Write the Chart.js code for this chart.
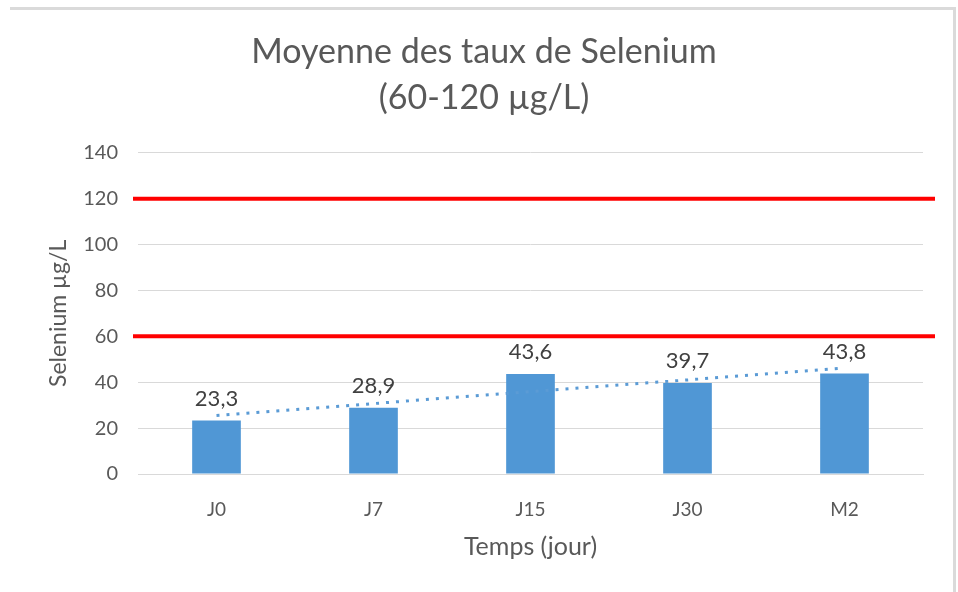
<!DOCTYPE html>
<html>
<head>
<meta charset="utf-8">
<script src="https://cdn.jsdelivr.net/npm/chart.js@4.4.1/dist/chart.umd.min.js"></script>
<style>
  html, body { margin: 0; padding: 0; background: #fff; }
  #wrap { position: relative; width: 958px; height: 592px; }
  #frame {
    position: absolute; left: 10px; top: 7px; width: 943px; height: 600px;
    border-top: 3px solid #dadada; border-right: 3px solid #dadada;
  }
  canvas { position: absolute; left: 0; top: 0; }
</style>
</head>
<body>
<div id="wrap">
  <div id="frame"></div>
  <canvas id="myChart1" width="958" height="592"></canvas>
</div>
<script>
// data
const categories = ['J0', 'J7', 'J15', 'J30', 'M2'];
const selenium = [23.3, 28.9, 43.6, 39.7, 43.8];
const trend = [25.5, 30.7, 35.9, 41.0, 46.2];
const refLimits = [60, 120];
const titleLines = ['Moyenne des taux de Selenium', '(60-120 µg/L)'];

const fontName = 'Lato';
const textGrey = '#595959';

// red reference lines (60 and 120), a bit wider than the plot area
const limitLines = {
  id: 'limitLines',
  afterDatasetsDraw(chart) {
    const ctx = chart.ctx;
    const area = chart.chartArea;
    const y = chart.scales.y;
    ctx.save();
    ctx.strokeStyle = '#ff0000';
    ctx.lineWidth = 4;
    refLimits.forEach(v => {
      let py = y.getPixelForValue(v);
      ctx.beginPath();
      ctx.moveTo(area.left - 5, py);
      ctx.lineTo(area.right + 12, py);
      ctx.stroke();
    });
    ctx.restore();
  }
};

// values on top of the bars, french decimal comma
const barLabels = {
  id: 'barLabels',
  afterDatasetsDraw(chart) {
    const ctx = chart.ctx;
    const meta = chart.getDatasetMeta(1);
    ctx.save();
    ctx.font = `22px ${fontName}`;
    ctx.fillStyle = '#404040';
    ctx.textAlign = 'center';
    ctx.textBaseline = 'middle';
    meta.data.forEach((bar, i) => {
      let txt = selenium[i].toFixed(1).replace('.', ',');
      ctx.fillText(txt, bar.x, bar.y - 22);
    });
    ctx.restore();
  }
};

const config = {
  type: 'bar',
  data: {
    labels: categories,
    datasets: [
      {
        type: 'line',
        label: 'Tendance',
        data: trend,
        borderColor: '#5b9bd5',
        borderWidth: 3,
        borderDash: [3, 7],
        pointRadius: 0,
        fill: false,
        order: 0
      },
      {
        label: 'Selenium',
        data: selenium,
        backgroundColor: '#5097d5',
        barPercentage: 0.31,
        categoryPercentage: 1,
        order: 1
      }
    ]
  },
  options: {
    responsive: false,
    animation: false,
    layout: {
      padding: { left: 45, right: 35, top: 0, bottom: 28 }
    },
    plugins: {
      legend: { display: false },
      tooltip: { enabled: false },
      title: {
        display: true,
        text: titleLines,
        color: textGrey,
        font: { family: fontName, size: 34, weight: 'normal', lineHeight: 1.35 },
        padding: { top: 29, bottom: 32 }
      }
    },
    scales: {
      x: {
        grid: { display: false, drawTicks: false },
        border: { display: true, color: '#d9d9d9', width: 1 },
        ticks: {
          color: textGrey,
          font: { family: fontName, size: 19 },
          padding: 24
        },
        title: {
          display: true,
          text: 'Temps (jour)',
          color: textGrey,
          font: { family: fontName, size: 25 },
          padding: { top: 0, bottom: 2 }
        },
        afterFit(scale) {
          scale.height = 90;
        }
      },
      y: {
        min: 0,
        max: 140,
        ticks: {
          stepSize: 20,
          color: textGrey,
          font: { family: fontName, size: 20 },
          padding: 20
        },
        grid: { color: '#d9d9d9', lineWidth: 1, drawTicks: false },
        border: { display: false },
        title: {
          display: true,
          text: 'Selenium µg/L',
          color: textGrey,
          font: { family: fontName, size: 23 },
          padding: { top: 0, bottom: 0 }
        },
        afterFit(scale) {
          scale.width = 93;
        }
      }
    }
  },
  plugins: [limitLines, barLabels]
};

new Chart(document.getElementById('myChart1').getContext('2d'), config);
</script>
</body>
</html>
